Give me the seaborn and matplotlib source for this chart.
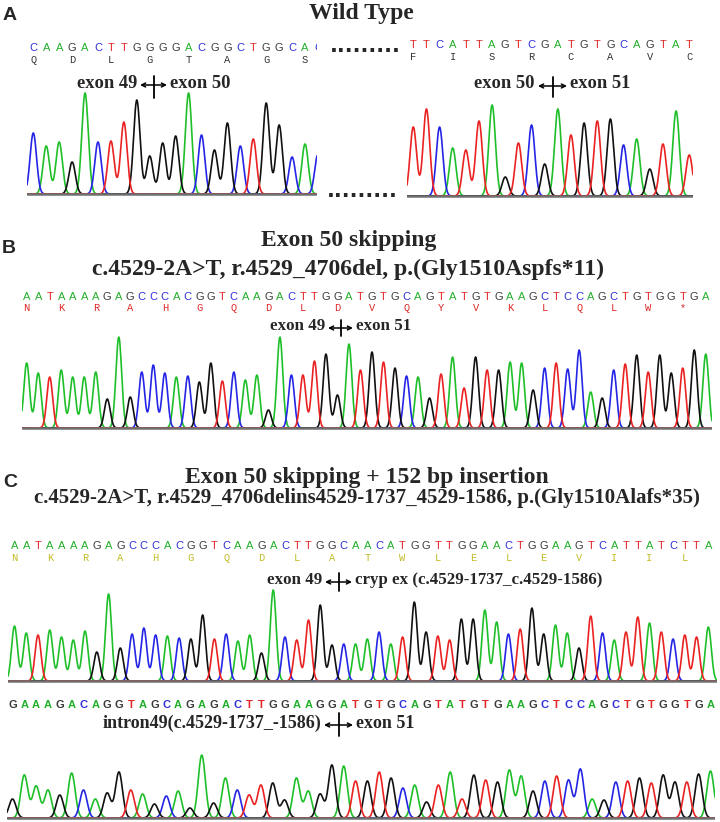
import numpy as np
import pandas as pd
import matplotlib
matplotlib.use("Agg")
import matplotlib.pyplot as plt
import seaborn as sns

W, H = 720, 822

# base calls, peak heights (px above baseline) and translated residues
seq_wt_left = "CAAGACTTGGGGACGGCTGGCAC"
peaks_wt_left = [61, 48, 52, 32, 101, 52, 53, 72, 94, 38, 51, 58, 101, 59, 44, 71,
                 48, 55, 91, 69, 37, 50, 40]
aa_wt_left = "QDLGTAGS"

seq_wt_right = "TTCATTAGTCGATGTGCAGTAT"
peaks_wt_right = [69, 87, 69, 48, 46, 75, 91, 19, 53, 71, 32, 87, 61, 73, 75, 77,
                  51, 57, 27, 52, 85, 41]
aa_wt_right = "FISRCAVC"

seq_skip = "AATAAAAGAGCCCACGGTCAAGACTTGGATGTGCAGTATGTGAAGCTCCAGCTGTGGTGA"
peaks_skip = [65, 55, 51, 58, 51, 51, 56, 29, 91, 31, 56, 63, 55, 51, 52, 46, 65, 47,
              56, 48, 53, 18, 91, 53, 53, 67, 74, 33, 84, 58, 76, 66, 60, 52, 51, 30,
              54, 71, 40, 71, 58, 58, 66, 65, 38, 60, 65, 59, 78, 36, 30, 58, 64, 73,
              56, 73, 55, 60, 78, 74]
aa_skip = "NKRAHGQDLDVQYVKLQLW*"

seq_ins1 = "AATAAAAGAGCCCACGGTCAAGACTTGGCAACATGGTTGGAACTGGAAGTCATTATCTTA"
peaks_ins1 = [55, 48, 46, 51, 44, 41, 50, 29, 87, 33, 47, 53, 46, 45, 43, 42, 66, 42,
              47, 40, 46, 28, 91, 44, 41, 61, 76, 36, 37, 37, 42, 49, 37, 44, 79, 49,
              45, 41, 62, 62, 71, 59, 47, 52, 73, 47, 56, 48, 33, 65, 48, 41, 49, 64,
              58, 49, 42, 46, 44, 54]
aa_ins1 = "NKRAHGQDLATWLELEVIIL"

seq_ins2 = "GAAAGACAGGTAGCAGAGACTTGGAAGGATGTGCAGTATGTGAAGCTCCAGCTGTGGTGA"
peaks_ins2 = [19, 43, 32, 28, 23, 45, 28, 19, 25, 46, 28, 24, 14, 22, 27, 10, 63, 15,
              40, 28, 23, 33, 35, 18, 40, 27, 24, 53, 52, 37, 37, 46, 40, 30, 33, 16,
              33, 46, 19, 43, 38, 36, 48, 42, 27, 37, 42, 38, 49, 19, 18, 36, 37, 40,
              35, 43, 36, 36, 44, 47]

trace_colors = {"A": "#1fbf2a", "C": "#2525e6", "G": "#111111", "T": "#ea2222"}
letter_colors = {"A": "#22b02a", "C": "#2e2ed8", "G": "#3a3a3a", "T": "#e02626"}

sns.set_style("white")
plt.rcParams['font.family'] = ['Liberation Sans', 'DejaVu Sans']
serif_bold = dict(family='Liberation Serif', fontweight='bold')

fig = plt.figure(figsize=(W / 100, H / 100), dpi=100)
lay = fig.add_axes([0, 0, 1, 1])
lay.set_xlim(0, W)
lay.set_ylim(H, 0)
lay.axis('off')


def px_rect(left, top, right, bottom):
    return [left / W, 1 - bottom / H, (right - left) / W, (bottom - top) / H]


def draw_track(seq, heights, x0, step, left, right, base_y, seq_y,
               aa=None, aa_y=None, aa_color="#333333", sigma=0.25, bold=False):
    top = seq_y - 9
    ax = fig.add_axes(px_rect(left, top, right, base_y + 2))
    xs = np.linspace((left - x0) / step, (right - x0) / step, 1600)
    idx = np.arange(len(seq))
    hts = np.array(heights, dtype=float)
    frames = []
    for b in "ACGT":
        mask = np.array([c == b for c in seq])
        sig = np.zeros_like(xs)
        for i, h in zip(idx[mask], hts[mask]):
            sig += h * np.exp(-(xs - i) ** 2 / (2 * sigma ** 2))
        frames.append(pd.DataFrame({"pos": xs, "signal": sig, "base": b}))
    df = pd.concat(frames, ignore_index=True)
    sns.lineplot(data=df, x="pos", y="signal", hue="base", hue_order=list("ACGT"),
                 palette=trace_colors, estimator=None, legend=False,
                 linewidth=1.2, ax=ax)
    ax.axhline(0, color="#707070", lw=1.8, zorder=5)
    ax.set_xlim(xs[0], xs[-1])
    ax.set_ylim(-2, base_y - top)
    ax.axis('off')
    for i, c in enumerate(seq):
        ax.text(i, base_y - seq_y, c, color=letter_colors[c], ha='center', va='center',
                fontsize=8, fontweight='bold' if bold else 'normal', clip_on=True)
    if aa:
        for k, a in enumerate(aa):
            ax.text(3 * k, base_y - aa_y, a, color=aa_color, ha='center', va='center',
                    fontsize=7.5, family='Liberation Mono', clip_on=True)
    return ax


def junction(a0, a1, y, left_txt, right_txt, size, up=8, down=12):
    lay.text(a0 - 3, y - 2, left_txt, ha='right', va='center', fontsize=size, **serif_bold)
    lay.text(a1 + 3, y - 2, right_txt, ha='left', va='center', fontsize=size, **serif_bold)
    lay.annotate('', xy=(a1, y), xytext=(a0, y),
                 arrowprops=dict(arrowstyle='<->', lw=1.1, color='black',
                                 shrinkA=0, shrinkB=0, mutation_scale=7))
    xm = (a0 + a1) / 2
    lay.plot([xm, xm], [y - up, y + down], color='black', lw=1.3)


# panel A
lay.text(3, 20, "A", fontsize=14, fontweight='bold', va='baseline', ha='left')
lay.text(361, 19, "Wild Type", fontsize=17, ha='center', va='baseline', **serif_bold)
draw_track(seq_wt_left, peaks_wt_left, 33.3, 12.94, 27, 317, 194, 48,
           aa=aa_wt_left, aa_y=60)
draw_track(seq_wt_right, peaks_wt_right, 413.3, 13.14, 407, 693, 196, 45,
           aa=aa_wt_right, aa_y=57)
junction(140, 167, 85, "exon 49", "exon 50", 13.3, up=9, down=13)
junction(538, 567, 86, "exon 50", "exon 51", 13.3, up=9, down=11)
lay.text(365, 52, "." * 9, fontsize=15, fontweight='bold', ha='center', va='baseline',
         family='DejaVu Sans')
lay.text(362, 197, "." * 9, fontsize=15, fontweight='bold', ha='center', va='baseline',
         family='DejaVu Sans')

# panel B
lay.text(2, 253, "B", fontsize=14, fontweight='bold', va='baseline', ha='left')
lay.text(349, 246, "Exon 50 skipping", fontsize=17, ha='center', va='baseline', **serif_bold)
lay.text(348, 275, "c.4529-2A>T, r.4529_4706del, p.(Gly1510Aspfs*11)", fontsize=17,
         ha='center', va='baseline', **serif_bold)
draw_track(seq_skip, peaks_skip, 26.7, 11.51, 22, 712, 428, 297,
           aa=aa_skip, aa_y=308, aa_color="#e02626")
junction(328, 353, 328, "exon 49", "exon 51", 12.2, up=8, down=8)

# panel C
lay.text(3, 487, "C", fontsize=14, fontweight='bold', va='baseline', ha='left')
lay.text(367, 483, "Exon 50 skipping + 152 bp insertion", fontsize=17,
         ha='center', va='baseline', **serif_bold)
lay.text(367, 503, "c.4529-2A>T, r.4529_4706delins4529-1737_4529-1586, p.(Gly1510Alafs*35)",
         fontsize=15, ha='center', va='baseline', **serif_bold)
draw_track(seq_ins1, peaks_ins1, 14.5, 11.76, 8, 717, 681, 546,
           aa=aa_ins1, aa_y=558, aa_color="#c2bb22")
junction(325, 352, 582, "exon 49", "cryp ex (c.4529-1737_c.4529-1586)", 12.2, up=9, down=9)
draw_track(seq_ins2, peaks_ins2, 12.5, 11.83, 7, 715, 818, 705, sigma=0.3, bold=True)
junction(324, 353, 725, "intron49(c.4529-1737_-1586)", "exon 51", 13, up=12, down=11)

fig.savefig("out.png", dpi=100)
